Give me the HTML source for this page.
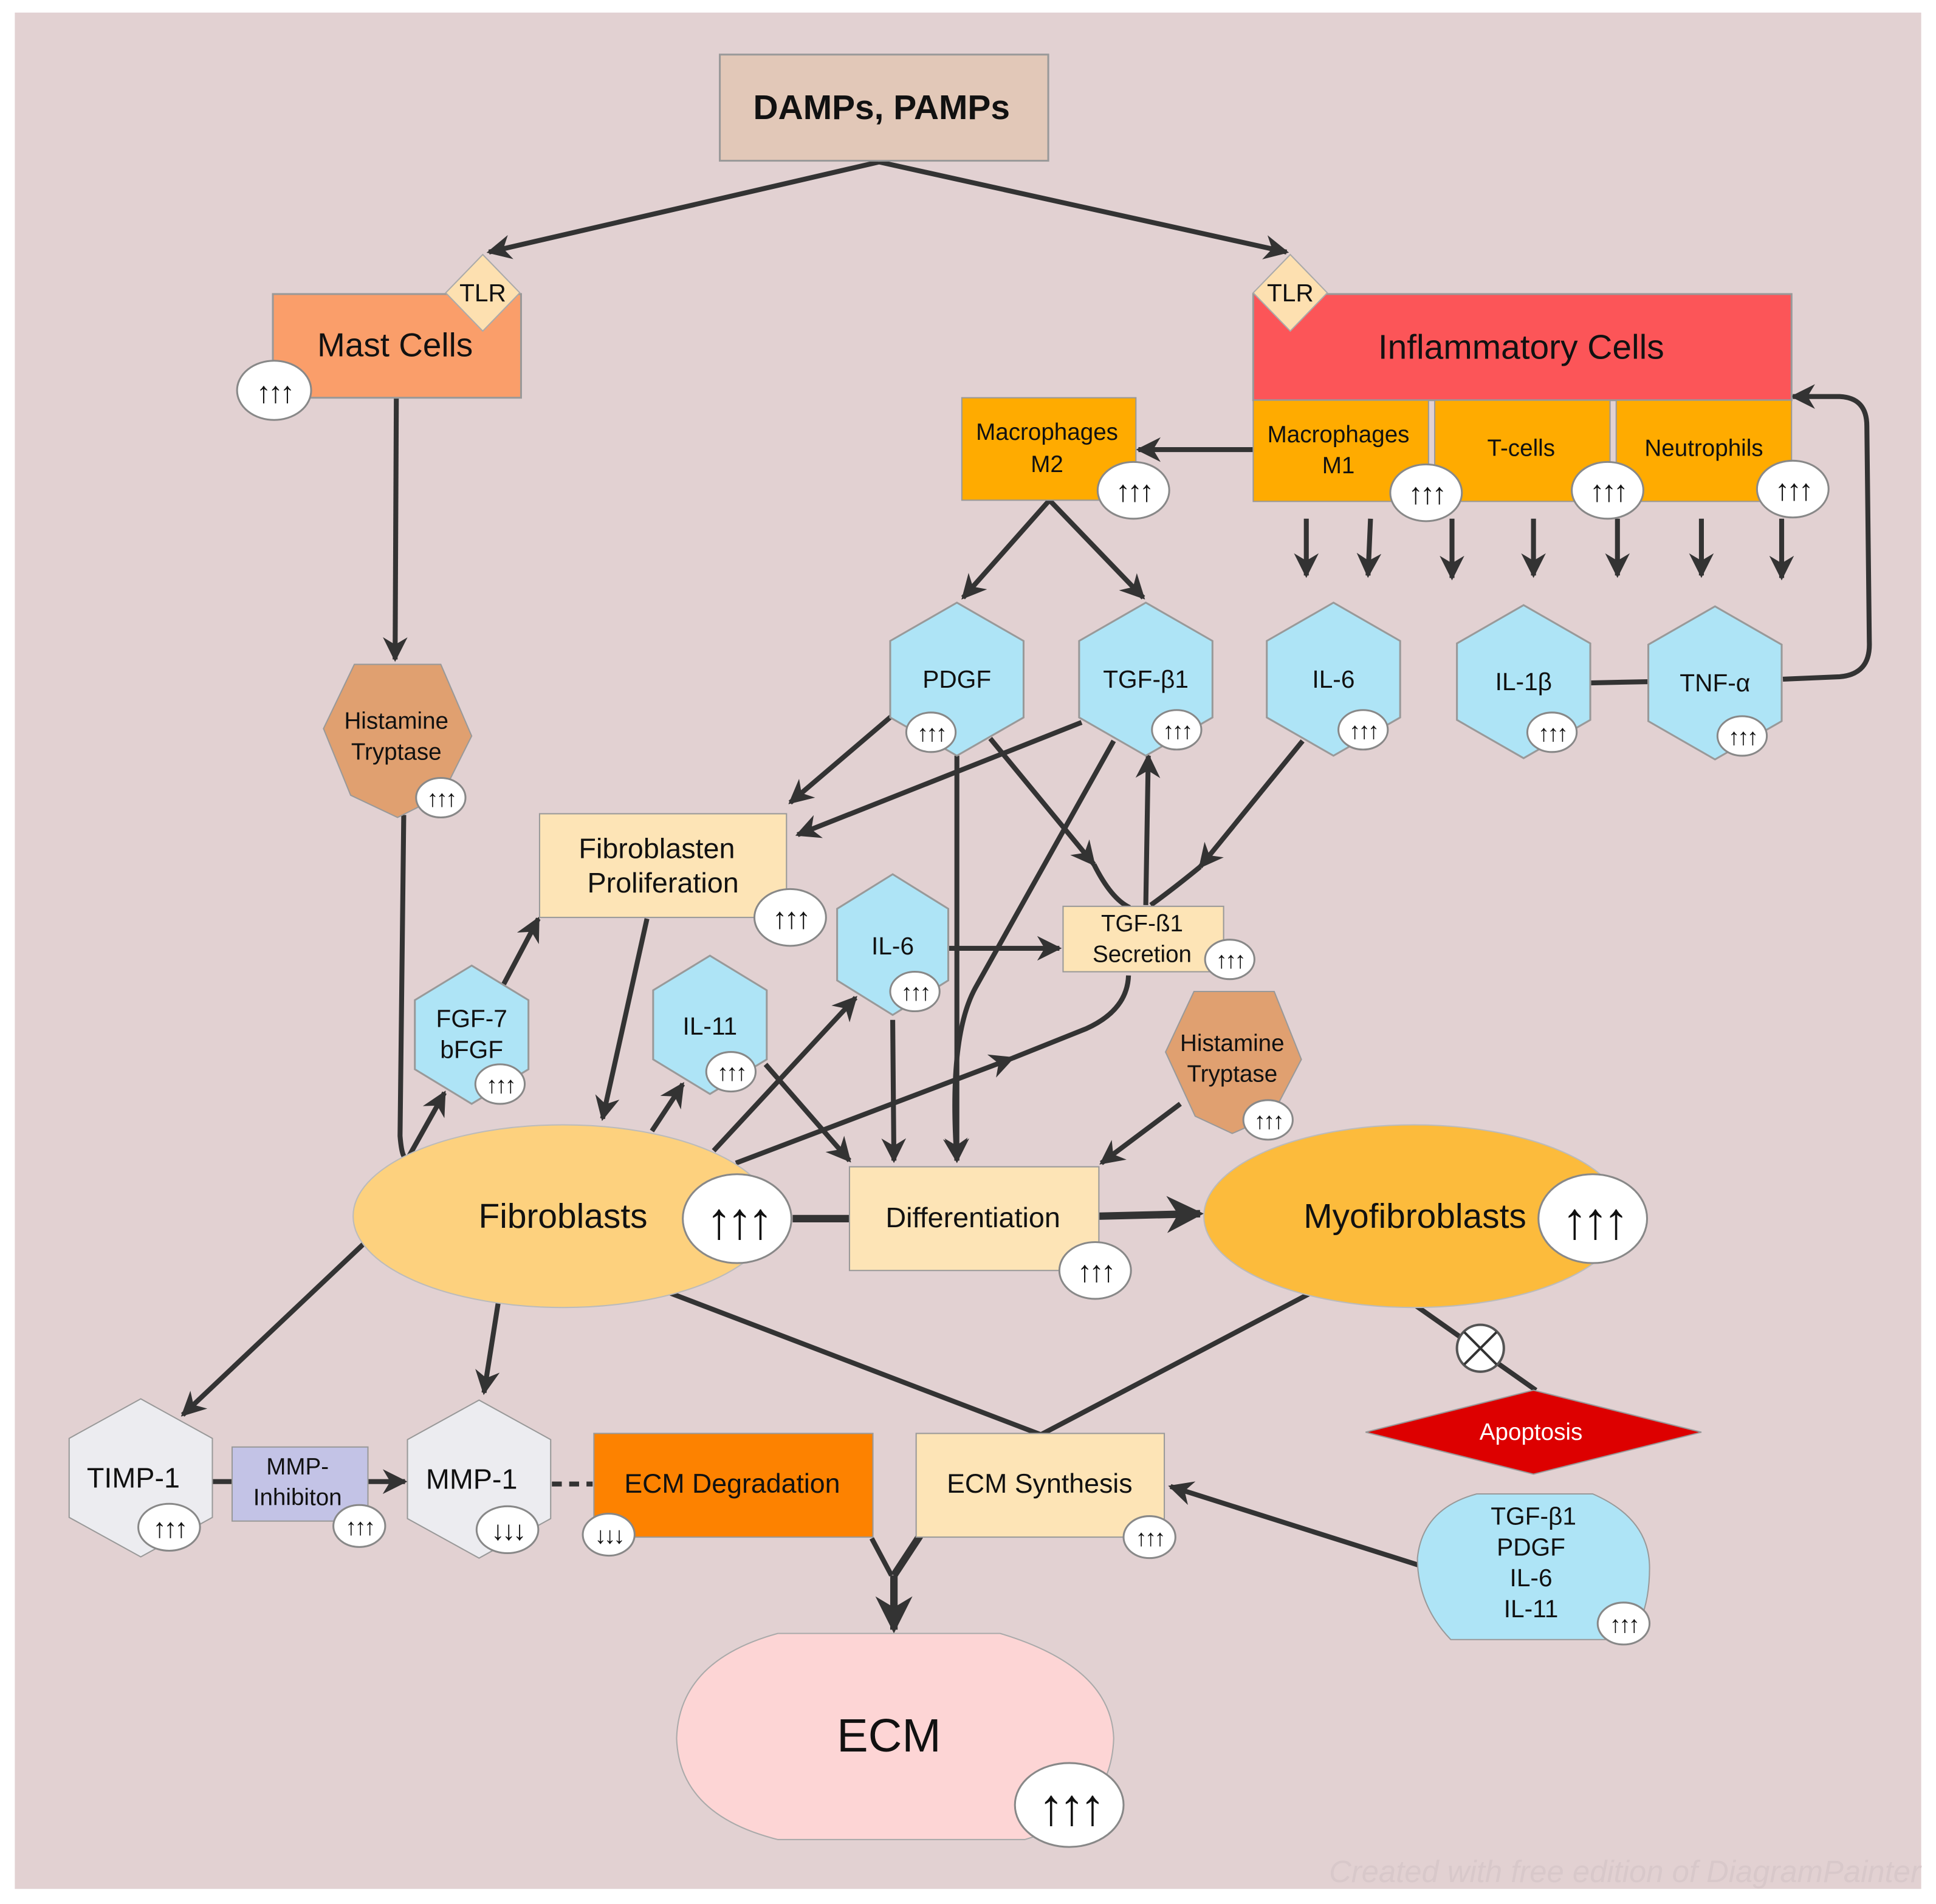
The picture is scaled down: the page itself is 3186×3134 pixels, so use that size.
<!DOCTYPE html>
<html><head><meta charset="utf-8"><style>
html,body{margin:0;padding:0;background:#fff}
svg{display:block}
text{font-family:"Liberation Sans",sans-serif;fill:#111;text-anchor:middle;dominant-baseline:central}
.ln{stroke:#333;stroke-width:4;fill:none}
.ar{stroke:#333;stroke-width:4;fill:none;marker-end:url(#a)}
.bd{fill:#fff;stroke:#888;stroke-width:1.5}
.b{letter-spacing:-0.1em;font-weight:bold}
</style></head><body>
<svg width="3186" height="3134" viewBox="0 0 1568 1542" xmlns="http://www.w3.org/2000/svg">
<defs>
<marker id="a" viewBox="0 0 10 10" refX="9" refY="5" markerWidth="5" markerHeight="5" orient="auto" markerUnits="strokeWidth"><path d="M0,0 L10,5 L0,10 L3,5 z" fill="#333"/></marker>
</defs>
<rect x="12" y="10" width="1544" height="1520" fill="#e2d1d2"/>

<path class="ar" d="M712,131 L396,204"/>
<path class="ar" d="M712,131 L1042,204"/>
<path class="ar" d="M321,322 L320,534"/>
<path class="ar" d="M1015,364 L922,364"/>
<path class="ar" d="M850,405 L780,484"/>
<path class="ar" d="M850,405 L926,484"/>
<path class="ar" d="M1058,420 L1058,466"/><path class="ar" d="M1110,420 L1108,466"/>
<path class="ar" d="M1176,420 L1176,468"/><path class="ar" d="M1242,420 L1242,466"/>
<path class="ar" d="M1310,420 L1310,466"/><path class="ar" d="M1378,420 L1378,466"/>
<path class="ar" d="M1443,420 L1443,468"/>
<path class="ar" d="M1444,550 L1490,548 Q1515,546 1514,520 L1512,345 Q1512,322 1490,321 L1452,321"/>
<path class="ln" d="M1288,553 L1335,552"/>
<path class="ar" d="M722,580 L640,650"/>
<path class="ar" d="M876,585 L646,676"/>
<path class="ar" d="M775,612 L775,940"/>
<path class="ar" d="M802,598 L886,700"/>
<path class="ln" d="M886,700 Q900,728 915,735"/>
<path class="ar" d="M902,600 L790,800 Q768,840 775,940"/>
<path class="ar" d="M928,733 L930,612"/>
<path class="ar" d="M1055,600 L972,702"/>
<path class="ln" d="M932,733 Q950,720 972,702"/>
<path class="ar" d="M768,768 L858,768"/>
<path class="ar" d="M524,744 L488,906"/>
<path class="ar" d="M528,916 L553,878"/>
<path class="ar" d="M578,932 L693,808"/>
<path class="ar" d="M723,826 L724,940"/>
<path class="ar" d="M620,862 L688,940"/>
<path class="ar" d="M596,942 L820,857"/>
<path class="ln" d="M820,857 L880,833 Q913,818 914,790"/>
<path class="ln" d="M327,660 L324,920 Q326,945 332,935"/>
<path class="ar" d="M332,935 L360,885"/>
<path class="ar" d="M408,797 L436,744"/>
<path class="ar" d="M956,894 L892,942"/>
<path class="ln" d="M642,987 L688,987" style="stroke-width:6"/>
<path class="ar" d="M890,985 L972,983" style="stroke-width:6"/>
<path class="ar" d="M296,1006 L148,1146"/>
<path class="ar" d="M404,1052 L392,1128"/>
<path class="ln" d="M542,1047 L843,1162 L1062,1047"/>
<path class="ln" d="M1146,1057 L1244,1126"/>
<path class="ar" d="M1150,1268 L948,1204"/>
<path class="ln" d="M170,1200 L188,1200"/>
<path class="ar" d="M298,1200 L328,1200"/>
<path class="ln" d="M447,1202 L480,1202" style="stroke-dasharray:8,6"/>
<path class="ln" d="M706,1246 L722,1276" />
<path class="ln" d="M745,1244 L724,1276" style="stroke-width:6"/>
<path class="ar" d="M724,1276 L724,1320" style="stroke-width:6"/>

<rect x="583" y="44" width="266" height="86" fill="#e2c8b8" stroke="#999" stroke-width="1.5"/>
<text x="714" y="87" font-size="28" font-weight="bold">DAMPs, PAMPs</text>

<rect x="221" y="238" width="201" height="84" fill="#fa9e6a" stroke="#999" stroke-width="1.5"/>
<text x="320" y="279" font-size="27">Mast Cells</text>
<polygon points="391,206 421,237 391,268 361,237" fill="#fde0b0" stroke="#aaa"/>
<text x="391" y="237" font-size="20">TLR</text>
<ellipse class="bd" cx="222" cy="316" rx="30" ry="24"/><text class="b" x="222" y="318" font-size="24">↑↑↑</text>

<rect x="1015" y="238" width="436" height="86" fill="#fc5558" stroke="#999" stroke-width="1.5"/>
<text x="1232" y="281" font-size="28">Inflammatory Cells</text>
<polygon points="1045,206 1075,237 1045,268 1015,237" fill="#fde0b0" stroke="#aaa"/>
<text x="1045" y="237" font-size="20">TLR</text>
<rect x="1015" y="324" width="142" height="82" fill="#ffab00" stroke="#999"/>
<rect x="1162" y="324" width="142" height="82" fill="#ffab00" stroke="#999"/>
<rect x="1309" y="324" width="142" height="82" fill="#ffab00" stroke="#999"/>
<text x="1084" y="352" font-size="19">Macrophages</text><text x="1084" y="377" font-size="19">M1</text>
<text x="1232" y="363" font-size="19">T-cells</text>
<text x="1380" y="363" font-size="19">Neutrophils</text>
<ellipse class="bd" cx="1155" cy="399" rx="29" ry="23"/><text class="b" x="1155" y="400" font-size="24">↑↑↑</text>
<ellipse class="bd" cx="1302" cy="397" rx="29" ry="23"/><text class="b" x="1302" y="398" font-size="24">↑↑↑</text>
<ellipse class="bd" cx="1452" cy="396" rx="29" ry="23"/><text class="b" x="1452" y="397" font-size="24">↑↑↑</text>
<rect x="779" y="322" width="141" height="83" fill="#ffab00" stroke="#999"/>
<text x="848" y="350" font-size="19">Macrophages</text><text x="848" y="376" font-size="19">M2</text>
<ellipse class="bd" cx="918" cy="397" rx="29" ry="23"/><text class="b" x="918" y="398" font-size="24">↑↑↑</text>

<g fill="#aee4f6" stroke="#999" stroke-width="1.5">
<polygon points="775,488 829,519 829,581 775,612 721,581 721,519"/>
<polygon points="928,488 982,519 982,581 928,612 874,581 874,519"/>
<polygon points="1080,488 1134,519 1134,581 1080,612 1026,581 1026,519"/>
<polygon points="1234,490 1288,521 1288,583 1234,614 1180,583 1180,521"/>
<polygon points="1389,491 1443,522 1443,584 1389,615 1335,584 1335,522"/>
<polygon points="723,708 768,736 768,794 723,822 678,794 678,736"/>
<polygon points="575,774 621,802 621,858 575,886 529,858 529,802"/>
<polygon points="382,782 428,810 428,866 382,894 336,866 336,810"/>
</g>
<text x="775" y="550" font-size="20">PDGF</text>
<text x="928" y="550" font-size="20">TGF-β1</text>
<text x="1080" y="550" font-size="20">IL-6</text>
<text x="1234" y="552" font-size="20">IL-1β</text>
<text x="1389" y="553" font-size="20">TNF-α</text>
<text x="723" y="766" font-size="20">IL-6</text>
<text x="575" y="831" font-size="20">IL-11</text>
<text x="382" y="825" font-size="20">FGF-7</text><text x="382" y="850" font-size="20">bFGF</text>
<ellipse class="bd" cx="754" cy="593" rx="20" ry="16"/><text class="b" x="754" y="594" font-size="19">↑↑↑</text>
<ellipse class="bd" cx="953" cy="591" rx="20" ry="16"/><text class="b" x="953" y="592" font-size="19">↑↑↑</text>
<ellipse class="bd" cx="1104" cy="591" rx="20" ry="16"/><text class="b" x="1104" y="592" font-size="19">↑↑↑</text>
<ellipse class="bd" cx="1257" cy="593" rx="20" ry="16"/><text class="b" x="1257" y="594" font-size="19">↑↑↑</text>
<ellipse class="bd" cx="1411" cy="596" rx="20" ry="16"/><text class="b" x="1411" y="597" font-size="19">↑↑↑</text>
<ellipse class="bd" cx="741" cy="803" rx="20" ry="16"/><text class="b" x="741" y="804" font-size="19">↑↑↑</text>
<ellipse class="bd" cx="592" cy="868" rx="20" ry="16"/><text class="b" x="592" y="869" font-size="19">↑↑↑</text>
<ellipse class="bd" cx="405" cy="878" rx="20" ry="16"/><text class="b" x="405" y="879" font-size="19">↑↑↑</text>

<polygon points="287,538 357,538 382,596 358,644 322,662 284,644 262,590" fill="#e0a070" stroke="#999"/>
<text x="321" y="584" font-size="19">Histamine</text><text x="321" y="609" font-size="19">Tryptase</text>
<ellipse class="bd" cx="357" cy="646" rx="20" ry="16"/><text class="b" x="357" y="647" font-size="19">↑↑↑</text>
<polygon points="967,803 1032,803 1054,858 1030,904 998,918 968,904 944,852" fill="#e0a070" stroke="#999"/>
<text x="998" y="845" font-size="19">Histamine</text><text x="998" y="870" font-size="19">Tryptase</text>
<ellipse class="bd" cx="1027" cy="907" rx="20" ry="16"/><text class="b" x="1027" y="908" font-size="19">↑↑↑</text>

<rect x="437" y="659" width="200" height="84" fill="#fde4b6" stroke="#999"/>
<text x="532" y="687" font-size="23">Fibroblasten</text><text x="537" y="715" font-size="23">Proliferation</text>
<ellipse class="bd" cx="640" cy="743" rx="29" ry="23"/><text class="b" x="640" y="744" font-size="24">↑↑↑</text>
<rect x="861" y="734" width="130" height="53" fill="#fde4b6" stroke="#999"/>
<text x="925" y="748" font-size="19">TGF-ß1</text><text x="925" y="773" font-size="19">Secretion</text>
<ellipse class="bd" cx="996" cy="777" rx="20" ry="16"/><text class="b" x="996" y="778" font-size="19">↑↑↑</text>

<ellipse cx="456" cy="985" rx="170" ry="74" fill="#fdd17e" stroke="#bbb"/>
<text x="456" y="985" font-size="28">Fibroblasts</text>
<ellipse class="bd" cx="597" cy="987" rx="44" ry="36"/><text class="b" x="597" y="989" font-size="42">↑↑↑</text>
<rect x="688" y="945" width="202" height="84" fill="#fde4b6" stroke="#999"/>
<text x="788" y="986" font-size="23">Differentiation</text>
<ellipse class="bd" cx="887" cy="1029" rx="29" ry="23"/><text class="b" x="887" y="1030" font-size="24">↑↑↑</text>
<ellipse cx="1145" cy="985" rx="170" ry="74" fill="#fcbb3c" stroke="#bbb"/>
<text x="1146" y="985" font-size="28">Myofibroblasts</text>
<ellipse class="bd" cx="1290" cy="987" rx="44" ry="36"/><text class="b" x="1290" y="989" font-size="42">↑↑↑</text>
<circle cx="1199" cy="1092" r="19" fill="#fff" stroke="#555" stroke-width="2"/>
<path d="M1186,1079 L1212,1105 M1212,1079 L1186,1105" stroke="#333" stroke-width="2"/>
<polygon points="1106,1160 1242,1126 1378,1160 1242,1194" fill="#dd0000" stroke="#999"/>
<text x="1240" y="1160" font-size="19" style="fill:#fff">Apoptosis</text>

<polygon points="114,1133 172,1165 172,1229 114,1261 56,1229 56,1165" fill="#ececf0" stroke="#999"/>
<text x="108" y="1197" font-size="23">TIMP-1</text>
<ellipse class="bd" cx="137" cy="1237" rx="25" ry="19"/><text class="b" x="137" y="1238" font-size="22">↑↑↑</text>
<rect x="188" y="1172" width="110" height="60" fill="#c3c3e6" stroke="#999"/>
<text x="241" y="1188" font-size="19">MMP-</text><text x="241" y="1213" font-size="19">Inhibiton</text>
<ellipse class="bd" cx="291" cy="1236" rx="21" ry="17"/><text class="b" x="291" y="1237" font-size="19">↑↑↑</text>
<polygon points="388,1134 446,1166 446,1230 388,1262 330,1230 330,1166" fill="#ececf0" stroke="#999"/>
<text x="382" y="1198" font-size="23">MMP-1</text>
<ellipse class="bd" cx="411" cy="1239" rx="25" ry="19"/><text class="b" x="411" y="1240" font-size="22">↓↓↓</text>
<rect x="481" y="1161" width="226" height="84" fill="#fd8200" stroke="#999"/>
<text x="593" y="1202" font-size="22">ECM Degradation</text>
<ellipse class="bd" cx="493" cy="1243" rx="21" ry="17"/><text class="b" x="493" y="1244" font-size="19">↓↓↓</text>
<rect x="742" y="1161" width="201" height="84" fill="#fde4b6" stroke="#999"/>
<text x="842" y="1202" font-size="22">ECM Synthesis</text>
<ellipse class="bd" cx="931" cy="1245" rx="21" ry="17"/><text class="b" x="931" y="1246" font-size="19">↑↑↑</text>
<path d="M1196,1210 L1290,1210 Q1336,1230 1336,1270 Q1336,1306 1320,1328 L1175,1328 Q1148,1300 1148,1262 Q1152,1222 1196,1210 Z" fill="#aee4f6" stroke="#999"/>
<text x="1242" y="1228" font-size="20">TGF-β1</text>
<text x="1240" y="1253" font-size="20">PDGF</text>
<text x="1240" y="1278" font-size="20">IL-6</text>
<text x="1240" y="1303" font-size="20">IL-11</text>
<ellipse class="bd" cx="1315" cy="1315" rx="21" ry="17"/><text class="b" x="1315" y="1316" font-size="19">↑↑↑</text>

<path d="M630,1323 L810,1323 Q900,1350 902,1408 Q900,1470 830,1490 L630,1490 Q550,1470 548,1408 Q550,1345 630,1323 Z" fill="#fdd5d5" stroke="#aaa"/>
<text x="720" y="1406" font-size="38">ECM</text>
<ellipse class="bd" cx="866" cy="1462" rx="44" ry="34"/><text class="b" x="866" y="1464" font-size="42">↑↑↑</text>

<text x="1316" y="1516" font-size="25" style="fill:#d8c8ca;font-style:italic">Created with free edition of DiagramPainter</text>
</svg>
</body></html>
